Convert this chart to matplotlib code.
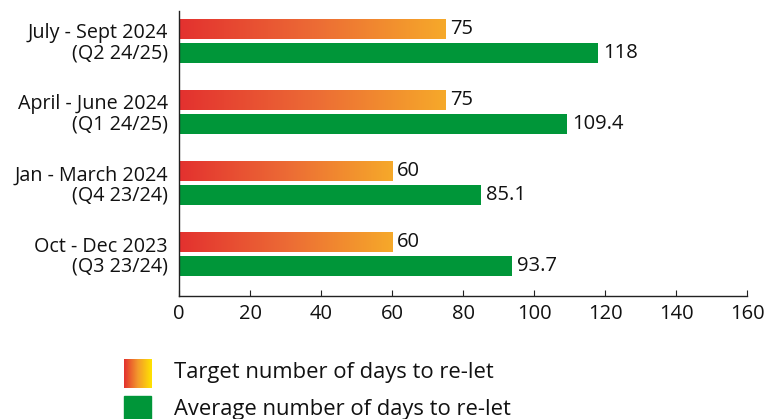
import numpy as np
import matplotlib
matplotlib.use("Agg")
import matplotlib.pyplot as plt
from matplotlib.colors import LinearSegmentedColormap
from matplotlib.patches import Rectangle

plt.rcParams['font.family'] = ['Open Sans', 'DejaVu Sans']

categories = ["July - Sept 2024\n(Q2 24/25)",
              "April - June 2024\n(Q1 24/25)",
              "Jan - March 2024\n(Q4 23/24)",
              "Oct - Dec 2023\n(Q3 23/24)"]
target = [75, 75, 60, 60]
average = [118, 109.4, 85.1, 93.7]
avg_labels = ["118", "109.4", "85.1", "93.7"]
target_labels = ["75", "75", "60", "60"]
xticks = [0, 20, 40, 60, 80, 100, 120, 140, 160]
legend_labels = ["Target number of days to re-let", "Average number of days to re-let"]

GREEN = '#009639'
bar_cmap = LinearSegmentedColormap.from_list('tg', ['#E3312F', '#EC6A35', '#F6A92A'])
leg_cmap = LinearSegmentedColormap.from_list('lg', ['#E3312F', '#F39A2C', '#FFE400'])

fig = plt.figure(figsize=(7.79, 4.19), dpi=100)
ax = fig.add_axes([179/779, 1-296/419, (747-179)/779, (296-11)/419])

h = 0.28
off = 0.169
grad = np.linspace(0, 1, 256).reshape(1, -1)
for i, (t, a) in enumerate(zip(target, average)):
    yc_t = i - off
    yc_a = i + off
    ax.imshow(grad, cmap=bar_cmap, aspect='auto', interpolation='bilinear',
              extent=(0, t, yc_t + h/2, yc_t - h/2), zorder=2)
    ax.barh(yc_a, a, height=h, color=GREEN, zorder=2)
    ax.text(t + 1.4, yc_t, target_labels[i], va='center', ha='left', fontsize=14.5, color='#111111')
    ax.text(a + 1.4, yc_a, avg_labels[i], va='center', ha='left', fontsize=14.5, color='#111111')

ax.set_xlim(0, 160)
ax.set_ylim(3.59, -0.42)
ax.set_xticks(xticks)
ax.set_xticklabels([str(x) for x in xticks], fontsize=14.5)
ax.set_yticks(range(len(categories)))
ax.set_yticklabels(categories, fontsize=14.2, linespacing=1.02)
ax.tick_params(axis='y', length=0, pad=8)
ax.tick_params(axis='x', direction='in', length=4, width=0.8, pad=6, colors='#222222')
for s in ['top', 'right']:
    ax.spines[s].set_visible(False)
for s in ['left', 'bottom']:
    ax.spines[s].set_color('#222222')
    ax.spines[s].set_linewidth(1.0)
for lbl in ax.get_xticklabels() + ax.get_yticklabels():
    lbl.set_color('#111111')

# legend
lax = fig.add_axes([124/779, 1-388/419, 28/779, 29/419])
lax.imshow(grad, cmap=leg_cmap, aspect='auto', interpolation='bilinear', extent=(0, 1, 0, 1))
lax.set_axis_off()
fig.patches.append(Rectangle((124/779, 1-419/419), 27/779, 23/419,
                             transform=fig.transFigure, color=GREEN, zorder=3))
fig.text(174/779, 1-372/419, legend_labels[0], fontsize=15.8, va='center', ha='left', color='#111111')
fig.text(174/779, 1-409/419, legend_labels[1], fontsize=15.8, va='center', ha='left', color='#111111')

fig.savefig('out.png', dpi=100)
